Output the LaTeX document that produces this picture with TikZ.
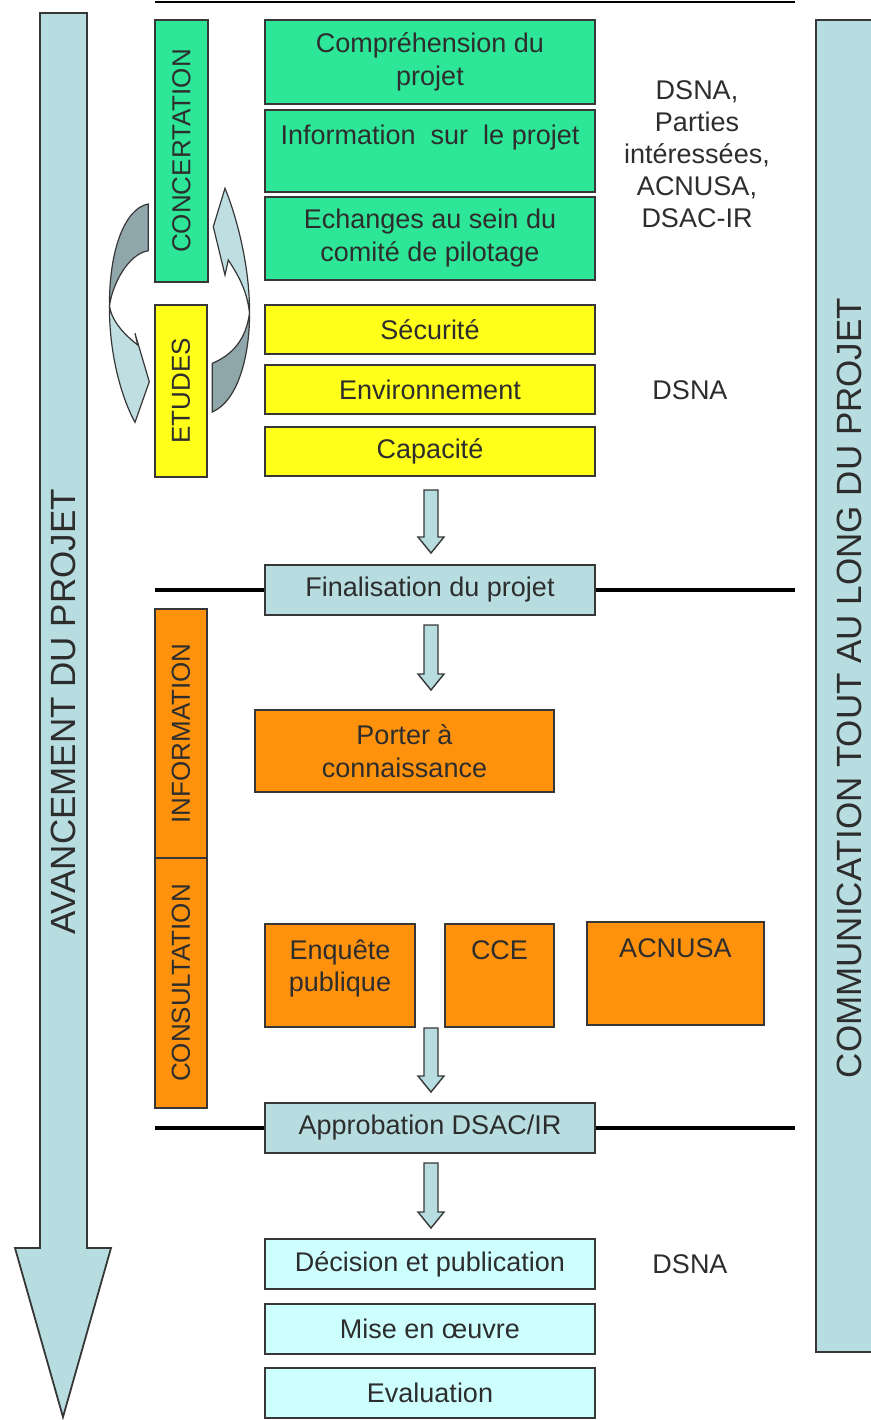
\documentclass[tikz,border=0pt]{standalone}
\usepackage{fontspec}
\setmainfont{Liberation Sans}
\definecolor{grn}{RGB}{46,230,152}
\definecolor{yel}{RGB}{255,255,25}
\definecolor{org}{RGB}{255,146,12}
\definecolor{cTeal}{RGB}{183,221,224}
\definecolor{cCyan}{RGB}{206,255,255}
\definecolor{cDark}{RGB}{143,166,170}
\definecolor{cLight}{RGB}{190,222,226}
\definecolor{cLine}{RGB}{55,55,55}
\definecolor{cText}{RGB}{45,45,45}
\newcommand\hollowdown[2]{%
  \draw[harrow] (424,#1) -- (438,#1) -- (438,#2-16) -- (444,#2-16) -- (431,#2) -- (418,#2-16) -- (424,#2-16) -- cycle;}
\begin{document}
\begin{tikzpicture}[x=0.5pt,y=-0.5pt,
  box/.style={draw=cLine, line width=0.8pt, inner sep=0pt, align=center, text=cText,
    font=\fontsize{13.5}{16.5}\selectfont},
  big/.style={text=cText, font=\fontsize{17.5}{20}\selectfont},
  lbl/.style={text=cText, align=center, font=\fontsize{13.5}{16}\selectfont},
  harrow/.style={draw=cLine, line width=0.7pt, fill=cTeal},
  sepline/.style={draw=black, line width=1.8pt},
  curvedark/.style={draw=cLine, line width=0.6pt, fill=cDark},
  curvelight/.style={draw=cLine, line width=0.6pt, fill=cLight}]
\useasboundingbox (0,0) rectangle (871,1420);

% top line
\coordinate (tl) at (155,2);
\coordinate (tr) at (795,2);
\draw[draw=black, line width=1.2pt] (tl) -- (tr);

% big left arrow
\draw[draw=cLine, line width=0.9pt, fill=cTeal]
  (40,13) -- (87,13) -- (87,1248) -- (111,1248) -- (63,1417) -- (15,1248) -- (40,1248) -- cycle;
\node[big, rotate=90] (avance) at (63,712) {AVANCEMENT DU PROJET};

% right box
\draw[draw=cLine, line width=0.9pt, fill=cTeal] (816,20) rectangle (885,1352);
\node[big, rotate=90] (comm) at (849,688) {COMMUNICATION TOUT AU LONG DU PROJET};

% vertical phase boxes
\node[box, fill=grn, rotate=90, minimum width=131pt, minimum height=26.5pt, font=\fontsize{13}{15}\selectfont] (conc) at (181.5,151) {CONCERTATION};
\node[box, fill=yel, rotate=90, minimum width=86pt, minimum height=26pt, font=\fontsize{13}{15}\selectfont] (etud) at (181,391) {ETUDES};
\node[box, fill=org, rotate=90, minimum width=124.5pt, minimum height=26pt, font=\fontsize{13}{15}\selectfont] (info) at (181,733.5) {INFORMATION};
\node[box, fill=org, rotate=90, minimum width=125pt, minimum height=26pt, font=\fontsize{13}{15}\selectfont] (cons) at (181,983) {CONSULTATION};

% green boxes
\node[box, fill=grn, minimum width=165pt, minimum height=42pt] (g1) at (430,62) {Compréhension du\\projet};
\node[box, fill=grn, minimum width=165pt, minimum height=41pt] (g2) at (430,151) {Information\ \ sur\ \ le projet\\\mbox{}};
\node[box, fill=grn, minimum width=165pt, minimum height=41.5pt] (g3) at (430,238.5) {Echanges au sein du\\comité de pilotage};

% yellow boxes
\node[box, fill=yel, minimum width=165pt, minimum height=24.5pt] (y1) at (430,329.5) {Sécurité};
\node[box, fill=yel, minimum width=165pt, minimum height=24.5pt] (y2) at (430,389.5) {Environnement};
\node[box, fill=yel, minimum width=165pt, minimum height=24.5pt] (y3) at (430,451.5) {Capacité};

% side labels
\node[lbl] (actors) at (697,154) {DSNA,\\Parties\\intéressées,\\ACNUSA,\\DSAC-IR};
\node[lbl] (dsna1) at (690,390) {DSNA};
\node[lbl] (dsna2) at (690,1264) {DSNA};

% curved arrows (left)
\draw[curvedark] (148.3,204) .. controls (125,208) and (109,250) .. (109.5,306)
  .. controls (112,285) and (128,254) .. (148.3,250.7) -- cycle;
\draw[curvelight] (109.5,306) .. controls (109,350) and (120,395) .. (135,422.3)
  -- (149.3,381.7) -- (135,333.3) -- (137.7,345) .. controls (125,335) and (112,322) .. (109.5,306) -- cycle;
% curved arrows (right)
\draw[curvedark] (212.3,363.3) .. controls (232,355) and (246,340) .. (249.5,313)
  .. controls (250,350) and (240,400) .. (212.3,412) -- cycle;
\draw[curvelight] (249.5,313) .. controls (250,270) and (238,220) .. (225,188.3)
  -- (213.3,226.7) -- (225,275) -- (228.3,260) .. controls (238,275) and (247,290) .. (249.5,313) -- cycle;

% hollow arrows
\hollowdown{490}{553}
\hollowdown{625}{690}
\hollowdown{1028}{1092}
\hollowdown{1163}{1228}

% milestone boxes with lines
\node[box, fill=cTeal, minimum width=165pt, minimum height=25pt] (fin) at (430,590) {Finalisation du projet};
\coordinate (fl) at (155,590);
\coordinate (fr) at (795,590);
\draw[sepline] (fl) -- (fin.west);
\draw[sepline] (fin.east) -- (fr);

\node[box, fill=org, minimum width=149.5pt, minimum height=41pt] (porter) at (404.5,751) {Porter à\\connaissance};

\node[box, fill=org, minimum width=75pt, minimum height=51.5pt] (enq) at (340,975.5) {};
\node[lbl] (enqt) at (340,968) {Enquête\\publique};
\node[box, fill=org, minimum width=54.5pt, minimum height=51.5pt] (cce) at (499.5,975.5) {};
\node[lbl] (ccet) at (499.5,950) {CCE};
\node[box, fill=org, minimum width=88.5pt, minimum height=51.5pt] (acn) at (675.5,973.5) {};
\node[lbl] (acnt) at (675.5,948) {ACNUSA};

\node[box, fill=cTeal, minimum width=165pt, minimum height=25pt] (appr) at (430,1128) {Approbation DSAC/IR};
\coordinate (al) at (155,1128);
\coordinate (ar) at (795,1128);
\draw[sepline] (al) -- (appr.west);
\draw[sepline] (appr.east) -- (ar);

\node[box, fill=cCyan, minimum width=165pt, minimum height=25pt] (dec) at (430,1264) {Décision et publication};
\node[box, fill=cCyan, minimum width=165pt, minimum height=25pt] (mise) at (430,1329) {Mise en œuvre};
\node[box, fill=cCyan, minimum width=165pt, minimum height=25pt] (eval) at (430,1393) {Evaluation};
\end{tikzpicture}
\end{document}
